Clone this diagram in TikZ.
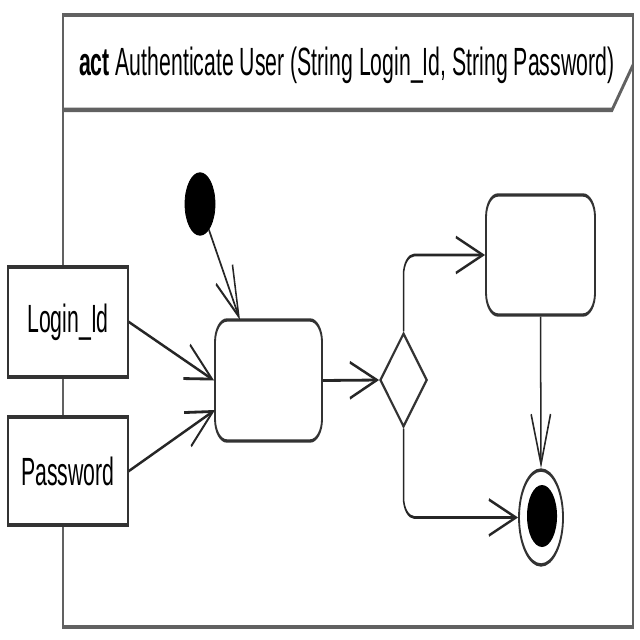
\documentclass[tikz,border=0pt]{standalone}
\usepackage{fontspec}
\setmainfont{Liberation Sans}
\usetikzlibrary{shapes.geometric,arrows.meta}
\begin{document}
\begin{tikzpicture}[x=0.25mm,y=-0.25mm]
\fill[white] (0,0) rectangle (640,640);
\useasboundingbox (0,0) rectangle (640,640);
\begin{scope}[x=0.462963mm, y=-0.25mm, transform canvas={xscale=0.54},
  frame/.style={draw=black!62, line width=3.2pt},
  ln/.style={draw=black!80, line width=2.4pt},
  txt/.style={font=\fontsize{28pt}{30pt}\selectfont, text=black},
  actbox/.style={ln, rounded corners=5.5mm, fill=white, inner sep=0pt},
  pinbox/.style={ln, txt, fill=white, inner sep=0pt},
  flow/.style={draw=black!85, line width=2pt, -{Straight Barb[length=12.5mm,width=9mm]}}]
\draw[frame] (63,15) rectangle (633,627);
\draw[frame] (63,110) -- (612,110) -- (633,65);
\node[txt, anchor=base west, inner sep=0pt] (title) at (79,76) {\textbf{act} Authenticate User (String Login\_Id, String Password)};
\node[pinbox, minimum width=55.56mm, minimum height=27.5mm] (login) at (68,322) {Login\_Id};
\node[pinbox, minimum width=55.56mm, minimum height=27mm] (pwd) at (68,471) {Password};
\node[actbox, minimum width=49.54mm, minimum height=30.25mm] (act1) at (268.5,380.5) {};
\node[actbox, minimum width=50.46mm, minimum height=30mm] (act2) at (540.5,255) {};
\node[ellipse, fill=black, draw=black, line width=1pt, inner sep=0pt, minimum width=13.89mm, minimum height=15.5mm] (init) at (200,204) {};
\node[diamond, ln, fill=white, inner sep=0pt, minimum width=21.76mm, minimum height=23.5mm] (dia) at (403.5,380) {};
\node[ellipse, ln, fill=white, inner sep=0pt, minimum width=20.37mm, minimum height=23.75mm] (fin) at (541,517.5) {};
\node[ellipse, fill=black, inner sep=0pt, minimum width=13.9mm, minimum height=15.5mm] (finin) at (542,516) {};
\coordinate (a1top) at (240,320);
\coordinate (a1pw) at (215,410);
\draw[flow] (init) -- (a1top);
\draw[flow] (login.east) -- (act1.west);
\draw[flow] (pwd.east) -- (a1pw);
\draw[flow] (act1.east) -- (dia.west);
\draw[flow, rounded corners=5mm] (dia.north) |- (act2.west);
\draw[flow, rounded corners=5mm] (dia.south) |- (fin.west);
\draw[flow] (act2.south) -- (fin.north);
\end{scope}
\end{tikzpicture}
\end{document}
